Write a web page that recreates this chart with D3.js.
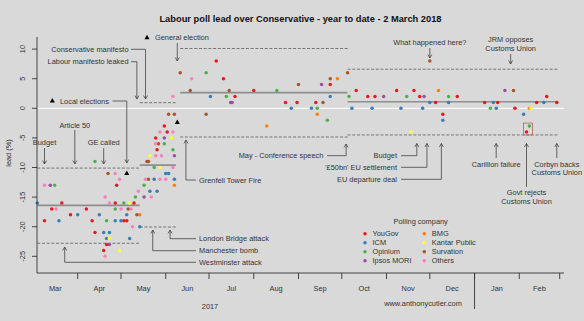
<!DOCTYPE html>
<html><head><meta charset="utf-8">
<script src="https://cdn.jsdelivr.net/npm/d3@7"></script>
<style>
body{margin:0;background:#d9d9d9}
svg{display:block}
text{font-family:"Liberation Sans",Arial,Helvetica,sans-serif}
</style>
</head><body>
<svg id="c" width="584" height="321"></svg>
<script>
// ---------------- DATA ----------------
const companies = ["YouGov","ICM","Opinium","Ipsos MORI","BMG","Kantar Public","Survation","Others"];

const yougov = [["2017-03-09",-19],["2017-03-14",-17],["2017-03-21",-16],["2017-03-27",-18],["2017-04-07",-17],["2017-04-11",-19],["2017-04-13",-21],["2017-04-19",-24],["2017-04-21",-23],["2017-04-27",-16],["2017-04-28",-13],["2017-05-03",-19],["2017-05-05",-19],["2017-05-10",-16],["2017-05-25",-5],["2017-05-26",-7],["2017-05-31",-3],["2017-06-02",-4],
["2017-07-06",8],["2017-07-11",5],["2017-07-19",2],["2017-08-01",3],["2017-08-23",1],["2017-08-31",1],["2017-09-13",1],["2017-09-23",4],["2017-10-11",3],["2017-10-19",2],["2017-10-24",2],["2017-11-08",3],["2017-11-20",3],["2017-11-24",2],["2017-12-05",1],["2017-12-10",-1],["2017-12-20",2],["2018-01-08",1],["2018-01-17",1],["2018-01-29",0],["2018-02-06",-4],["2018-02-13",1],["2018-02-20",2],["2018-02-27",1]];

const icm = [["2017-03-04",-16],["2017-03-19",-19],["2017-04-01",-18],["2017-04-16",-18],["2017-04-19",-21],["2017-04-21",-22],["2017-04-23",-21],["2017-04-27",-19],["2017-05-01",-19],["2017-05-05",-18],["2017-05-07",-22],["2017-05-14",-20],["2017-05-21",-14],["2017-05-24",-12],["2017-05-26",-14],["2017-06-01",-11],["2017-06-03",-11],["2017-06-07",-12],
["2017-07-02",2],["2017-08-27",0],["2017-09-10",0],["2017-09-23",2],["2017-10-08",0],["2017-10-22",0],["2017-11-11",0],["2017-11-26",0],["2017-12-01",1],["2017-12-10",-2],["2017-12-14",1],["2018-01-14",1],["2018-01-16",0],["2018-02-04",-1],["2018-02-18",1]];

const opinium = [["2017-03-16",-13],["2017-04-13",-9],["2017-04-21",-19],["2017-04-27",-17],["2017-05-03",-16],["2017-05-11",-15],["2017-05-17",-13],["2017-05-24",-10],["2017-05-31",-6],["2017-06-06",-7],
["2017-06-29",6],["2017-07-13",2],["2017-08-17",3],["2017-09-14",0],["2017-09-21",-2],["2017-10-06",2],["2017-11-15",2],["2017-12-14",2],["2018-01-12",0],["2018-02-08",-3]];

const ipsos = [["2017-03-13",-13],["2017-04-23",-23],["2017-05-17",-15],["2017-05-31",-5],["2017-06-07",-8],["2017-07-16",1],["2017-07-17",1],["2017-09-17",4],["2017-10-30",2],["2017-11-27",2],["2018-01-22",3]];

const bmg = [["2017-05-14",-18],["2017-06-07",-13],["2017-08-10",-3],["2017-09-14",-1],["2017-09-28",5],["2017-12-07",3],["2018-02-08",0]];

const kantar = [["2017-04-23",-22],["2017-04-30",-24],["2017-05-07",-16],["2017-05-21",-8],["2017-05-28",-10],["2017-06-05",-5],["2017-11-18",-4],["2018-02-09",0]];

const survation = [["2017-04-22",-11],["2017-05-06",-17],["2017-05-12",-18],["2017-05-19",-9],["2017-05-20",-9],["2017-05-20",-12],["2017-05-27",-6],["2017-06-03",-1],["2017-06-07",-1],["2017-06-11",6],["2017-06-18",3],["2017-06-29",-1],["2017-07-15",3],["2017-09-01",4],["2017-09-18",1],["2017-09-23",5],["2017-10-05",6],["2017-12-01",8],["2018-01-28",3]];

const others = [["2017-03-09",-13],["2017-03-17",-17],["2017-04-20",-15],["2017-04-20",-25],["2017-04-23",-16],["2017-04-27",-11],["2017-04-30",-12],["2017-05-01",-17],["2017-05-08",-17],["2017-05-09",-20],["2017-05-13",-14],["2017-05-18",-12],["2017-05-22",-15],["2017-05-25",-6],["2017-05-25",-8],["2017-05-28",-4],["2017-05-28",-12],["2017-05-29",-8],["2017-06-01",-12],["2017-06-06",-4],["2017-06-06",-10],["2017-06-06",2],["2017-06-19",5]];

// election results (triangles)
const electionDates = ["2017-05-05","2017-06-09"];
const electionLeads = [-11, -2.4];

// period averages and bands
const periodStart = ["2017-03-04","2017-05-14","2017-06-11","2017-10-05"];
const periodEnd   = ["2017-05-14","2017-06-08","2017-10-05","2018-02-28"];
const periodMean  = [-16.4, -9.6, 2.65, 1.1];
const periodUpper = [-10.1, 0.95, 10.1, 6.6];
const periodLower = [-22.8, -20.05, -4.85, -4.5];

// events
const eventNames = ["Budget","Article 50","GE called","Local elections","Labour manifesto leaked","Conservative manifesto","General election",
  "Westminster attack","Manchester bomb","London Bridge attack","Grenfell Tower Fire","May - Conference speech","Budget","'£50bn' EU settlement",
  "EU departure deal","Carillion failure","Govt rejects|Customs Union","Corbyn backs|Customs Union","What happened here?","JRM opposes|Customs Union"];
const eventDates = ["2017-03-09","2017-03-30","2017-04-19","2017-05-05","2017-05-12","2017-05-18","2017-06-09",
  "2017-03-23","2017-05-23","2017-06-04","2017-06-15","2017-10-04","2017-11-22","2017-11-29",
  "2017-12-09","2018-01-16","2018-02-06","2018-02-27","2017-12-01","2018-01-26"];

const yTicks = [10,5,0,-5,-10,-15,-20,-25];
const monthLabels = ["Mar","Apr","May","Jun","Jul","Aug","Sep","Oct","Nov","Dec","Jan","Feb"];
const title = "Labour poll lead over Conservative - year to date - 2 March 2018";

// ---------------- DRAW ----------------
const series = [yougov, icm, opinium, ipsos, bmg, kantar, survation, others];
const colour = d3.scaleOrdinal().domain(companies)
  .range(["#e41a1c","#377eb8","#4daf4a","#984ea3","#ff7f00","#ffff33","#a65628","#f781bf"]);
const parse = d3.timeParse("%Y-%m-%d");
const svg = d3.select("#c");
const P = {l:37, r:564, t:37, b:273};
const FONT = 7.4, TXT = "#333", LN = "#444";

const x = d3.scaleTime().domain([parse("2017-04-01"), parse("2018-03-01")]).range([77.7, 559.7]);
const y = d3.scaleLinear().domain([0, -25]).range([108.3, 256.3]);

svg.append("rect").attr("width",584).attr("height",321).attr("fill","#d9d9d9");

// zero line
svg.append("line").attr("x1",P.l).attr("x2",P.r).attr("y1",y(0)).attr("y2",y(0))
  .attr("stroke","#fff").attr("stroke-width",1);

// period lines
const gP = svg.append("g");
periodStart.forEach((s,i)=>{
  const x1 = x(parse(s)), x2 = x(parse(periodEnd[i]));
  gP.append("line").attr("x1",x1).attr("x2",x2).attr("y1",y(periodMean[i])).attr("y2",y(periodMean[i]))
    .attr("stroke","#8e8e8e").attr("stroke-width",1.6);
  [periodUpper[i], periodLower[i]].forEach(v=>{
    gP.append("line").attr("x1",x1).attr("x2",x2).attr("y1",y(v)).attr("y2",y(v))
      .attr("stroke","#6a6a6a").attr("stroke-width",0.9).attr("stroke-dasharray","3,1.7");
  });
});

// points
const gD = svg.append("g");
series.forEach((arr,i)=>{
  gD.selectAll(null).data(arr).enter().append("circle")
    .attr("cx",d=>x(parse(d[0]))).attr("cy",d=>y(d[1])).attr("r",1.75)
    .attr("fill",colour(companies[i]));
});

// highlight box around the Feb polls
{
  const bx1 = x(parse("2018-02-06"))-3, bx2 = x(parse("2018-02-08"))+3;
  const by1 = y(-3)-3, by2 = y(-4)+3;
  svg.append("rect").attr("x",bx1).attr("y",by1).attr("width",bx2-bx1).attr("height",by2-by1)
    .attr("fill","none").attr("stroke","#b5655a").attr("stroke-width",0.8);
}

// triangles
const tri = d3.symbol().type(d3.symbolTriangle).size(11);
electionDates.forEach((d,i)=>{
  svg.append("path").attr("d",tri()).attr("transform",`translate(${x(parse(d))},${y(electionLeads[i])})`).attr("fill","#000");
});

// ---------- annotations ----------
const gA = svg.append("g");
function txt(t, tx, ty, anchor){
  const parts = t.split("|");
  parts.forEach((p,k)=>{
    gA.append("text").attr("x",tx).attr("y",ty + k*8.8).attr("dy","0.35em")
      .attr("text-anchor",anchor).attr("font-size",FONT).attr("fill",TXT).text(p);
  });
}
function path(pts){
  gA.append("path").attr("d",d3.line()(pts)).attr("fill","none").attr("stroke",LN).attr("stroke-width",0.8);
  const a = pts[pts.length-2], b = pts[pts.length-1];
  const ang = Math.atan2(b[1]-a[1], b[0]-a[0]), len = 4, sp = Math.PI/6;
  const h1 = [b[0]-len*Math.cos(ang-sp), b[1]-len*Math.sin(ang-sp)];
  const h2 = [b[0]-len*Math.cos(ang+sp), b[1]-len*Math.sin(ang+sp)];
  gA.append("path").attr("d",d3.line()([h1,b,h2])).attr("fill","none").attr("stroke",LN).attr("stroke-width",0.8);
}
const ex = i => x(parse(eventDates[i]));
function triMark(px,py){ gA.append("path").attr("d",tri()).attr("transform",`translate(${px},${py})`).attr("fill","#000"); }

// Budget / Article 50 / GE called (down arrows)
txt(eventNames[0], ex(0), 142.7, "middle"); path([[ex(0),148],[ex(0),164]]);
txt(eventNames[1], ex(1), 125, "middle");   path([[ex(1),130],[ex(1),164]]);
txt(eventNames[2], ex(2), 142.7, "middle"); path([[ex(2),148],[ex(2),164]]);
// Local elections
triMark(52.3, 101); txt(eventNames[3], 60, 101, "start"); path([[112.5,101],[ex(3),101],[ex(3),163]]);
// manifestos
txt(eventNames[4], 128.5, 61.7, "end"); path([[131,61.7],[ex(4),61.7],[ex(4),99]]);
txt(eventNames[5], 128.5, 49.3, "end"); path([[131,49.3],[ex(5),49.3],[ex(5),99]]);
// General election
triMark(147, 37.7); txt(eventNames[6], 155, 37.7, "start"); path([[ex(6),43],[ex(6),61]]);
// attacks (bottom, up arrows)
txt(eventNames[7], 199, 262.3, "start"); path([[196,262.3],[ex(7),262.3],[ex(7),247]]);
txt(eventNames[8], 199, 250.7, "start"); path([[196,250.7],[ex(8),250.7],[ex(8),230]]);
txt(eventNames[9], 199, 238.7, "start"); path([[196,238.7],[ex(9),238.7],[ex(9),230]]);
txt(eventNames[10], 199, 180, "start");  path([[196,180],[ex(10),180],[ex(10),140]]);
// conference speech
txt(eventNames[11], 323.3, 155.7, "end"); path([[327,155.7],[ex(11),155.7],[ex(11),144]]);
// budget, settlement, deal
txt(eventNames[12], 397, 155.7, "end"); path([[401,155.7],[ex(12),155.7],[ex(12),143.5]]);
txt(eventNames[13], 397, 167.3, "end"); path([[401,167.3],[ex(13),167.3],[ex(13),143.5]]);
txt(eventNames[14], 397, 179.3, "end"); path([[401,179.3],[ex(14),179.3],[ex(14),143.5]]);
// Carillion, Govt rejects, Corbyn
txt(eventNames[15], ex(15), 164, "middle"); path([[ex(15),158],[ex(15),143.5]]);
txt(eventNames[16], ex(16), 192.7, "middle"); path([[ex(16),187],[ex(16),143.5]]);
txt(eventNames[17], ex(17), 164, "middle"); path([[ex(17),158],[ex(17),143.5]]);
// top right
txt(eventNames[18], ex(18), 42.3, "middle"); path([[ex(18),48],[ex(18),58]]);
txt(eventNames[19], ex(19), 39.3, "middle"); path([[ex(19),54],[ex(19),64]]);

// ---------- axes ----------
const gX = svg.append("g").attr("stroke","#333").attr("stroke-width",0.9);
gX.append("line").attr("x1",P.l).attr("x2",P.l).attr("y1",P.t).attr("y2",P.b);
gX.append("line").attr("x1",P.l).attr("x2",P.r).attr("y1",P.b).attr("y2",P.b);
yTicks.forEach(v=>{
  gX.append("line").attr("x1",P.l-5).attr("x2",P.l).attr("y1",y(v)).attr("y2",y(v));
  svg.append("text").attr("transform",`translate(22.7,${y(v)}) rotate(-90)`).attr("dy","0.35em")
    .attr("text-anchor","middle").attr("font-size",FONT).attr("fill",TXT).text(v);
});
const monthStarts = d3.timeMonth.range(parse("2017-04-01"), parse("2018-03-02"));
monthStarts.forEach(m=>{
  gX.append("line").attr("x1",x(m)).attr("x2",x(m)).attr("y1",P.b).attr("y2",P.b+6);
});
const labelMonths = d3.timeMonth.range(parse("2017-03-01"), parse("2018-02-02"));
labelMonths.forEach((m,i)=>{
  const mid = new Date((m.getTime() + d3.timeMonth.offset(m,1).getTime())/2);
  svg.append("text").attr("x",x(mid)).attr("y",288.3).attr("dy","0.35em").attr("text-anchor","middle")
    .attr("font-size",FONT).attr("fill",TXT).text(monthLabels[i]);
});
// year separator
gX.append("line").attr("x1",x(parse("2018-01-01"))).attr("x2",x(parse("2018-01-01"))).attr("y1",P.b).attr("y2",309);
svg.append("text").attr("x",210).attr("y",306.7).attr("dy","0.35em").attr("text-anchor","middle")
  .attr("font-size",FONT).attr("fill",TXT).text("2017");
svg.append("text").attr("x",423).attr("y",303).attr("dy","0.35em").attr("text-anchor","middle")
  .attr("font-size",FONT).attr("fill",TXT).text("www.anthonycutler.com");

// y label
svg.append("text").attr("transform","translate(8,153) rotate(-90)").attr("dy","0.35em").attr("text-anchor","middle")
  .attr("font-size",FONT).attr("fill",TXT).text("lead (%)");

// title
svg.append("text").attr("x",(P.l+P.r)/2).attr("y",19).attr("dy","0.35em").attr("text-anchor","middle")
  .attr("font-size",9.3).attr("font-weight","bold").attr("fill","#111").text(title);

// legend
const gL = svg.append("g");
gL.append("text").attr("x",420.7).attr("y",221.5).attr("dy","0.35em").attr("text-anchor","middle")
  .attr("font-size",FONT).attr("fill",TXT).text("Polling company");
companies.forEach((c,i)=>{
  const col = Math.floor(i/4), row = i%4;
  const dx = col===0 ? 365 : 424.3;
  const yy = 233.7 + row*9;
  gL.append("circle").attr("cx",dx).attr("cy",yy).attr("r",1.75).attr("fill",colour(c));
  gL.append("text").attr("x",dx+7.5).attr("y",yy).attr("dy","0.35em").attr("font-size",FONT).attr("fill",TXT).text(c);
});
</script>
</body></html>
